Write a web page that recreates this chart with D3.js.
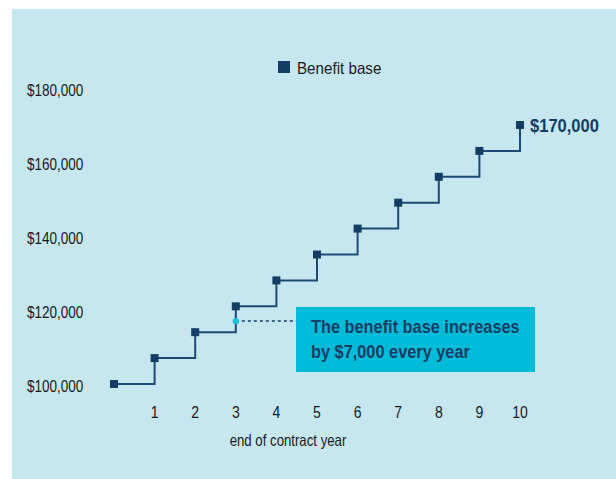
<!doctype html>
<html>
  <head>
    <meta charset="utf-8">
    <title>Benefit base</title>
    <script src="https://cdnjs.cloudflare.com/ajax/libs/d3/7.8.5/d3.min.js"></script>
    <style>
      body { margin: 0; background: #fff; }
      text { font-family: "Liberation Sans", Arial, sans-serif; }
    </style>
  </head>
  <body>
    <div id="chart"></div>
    <script>
      // data
      const years = [0, 1, 2, 3, 4, 5, 6, 7, 8, 9, 10];
      const benefitBase = [100000, 107000, 114000, 121000, 128000, 135000, 142000, 149000, 156000, 163000, 170000];
      const yTicks = [100000, 120000, 140000, 160000, 180000];
      const xTicks = [1, 2, 3, 4, 5, 6, 7, 8, 9, 10];

      const navy = '#133d64';
      const ink = '#1a1a1a';
      const W = 616, H = 479;

      const svg = d3.select('#chart').append('svg')
        .attr('width', W)
        .attr('height', H);

      // narrow text: no condensed font installed, so squeeze horizontally
      function narrow(g, px, py, str, size, sx, bold, color, anchor) {
        return g.append('text')
          .attr('transform', `translate(${px},${py}) scale(${sx},1)`)
          .attr('font-size', size + 'px')
          .attr('font-weight', bold ? 'bold' : 'normal')
          .attr('text-anchor', anchor || 'start')
          .attr('fill', color)
          .text(str);
      }

      // panel background
      svg.append('rect')
        .attr('x', 12).attr('y', 9)
        .attr('width', W - 12).attr('height', 470)
        .attr('fill', '#c6e7f0');

      const x = d3.scaleLinear().domain([0, 10]).range([114, 520]);
      const y = d3.scaleLinear().domain([100000, 170000]).range([384, 125]);

      const data = years.map((yr, i) => ({ year: yr, value: benefitBase[i] }));

      // y labels
      yTicks.forEach(d => {
        narrow(svg, 27, y(d) + 8, '$' + d3.format(',')(d), 16.5, 0.82, false, ink);
      });

      // x labels
      xTicks.forEach(d => {
        narrow(svg, x(d), 418, String(d), 16.5, 0.85, false, ink, 'middle');
      });

      narrow(svg, 288, 446, 'end of contract year', 16.5, 0.8, false, ink, 'middle');

      // legend
      svg.append('rect')
        .attr('x', 278).attr('y', 61)
        .attr('width', 12).attr('height', 12)
        .attr('fill', navy);
      narrow(svg, 297, 74, 'Benefit base', 16.5, 0.92, false, ink);

      // annotation
      const midVal = (benefitBase[2] + benefitBase[3]) / 2 - 500;
      svg.append('line')
        .attr('x1', x(3)).attr('x2', 301)
        .attr('y1', y(midVal)).attr('y2', y(midVal))
        .attr('stroke', navy)
        .attr('stroke-width', 1.5)
        .attr('stroke-dasharray', '3,3');

      svg.append('rect')
        .attr('x', 296).attr('y', 307)
        .attr('width', 239).attr('height', 65)
        .attr('fill', '#00bcd9');
      narrow(svg, 311, 333, 'The benefit base increases', 19, 0.86, true, navy);
      narrow(svg, 311, 358, 'by $7,000 every year', 19, 0.86, true, navy);

      // step line
      const line = d3.line()
        .x(d => x(d.year))
        .y(d => y(d.value))
        .curve(d3.curveStepAfter);

      svg.append('path')
        .datum(data)
        .attr('d', line)
        .attr('fill', 'none')
        .attr('stroke', '#1d4a73')
        .attr('stroke-width', 2);

      // markers
      svg.selectAll('rect.mark')
        .data(data)
        .join('rect')
        .attr('class', 'mark')
        .attr('x', d => x(d.year) - 4)
        .attr('y', d => y(d.value) - 4)
        .attr('width', 8).attr('height', 8)
        .attr('fill', navy);

      // annotation dot on top of the line
      svg.append('circle')
        .attr('cx', x(3)).attr('cy', y(midVal))
        .attr('r', 3.2)
        .attr('fill', '#1cc0e0');

      // end label
      narrow(svg, 530, y(170000) + 7, '$170,000', 19, 0.87, true, navy);
    </script>
  </body>
</html>
